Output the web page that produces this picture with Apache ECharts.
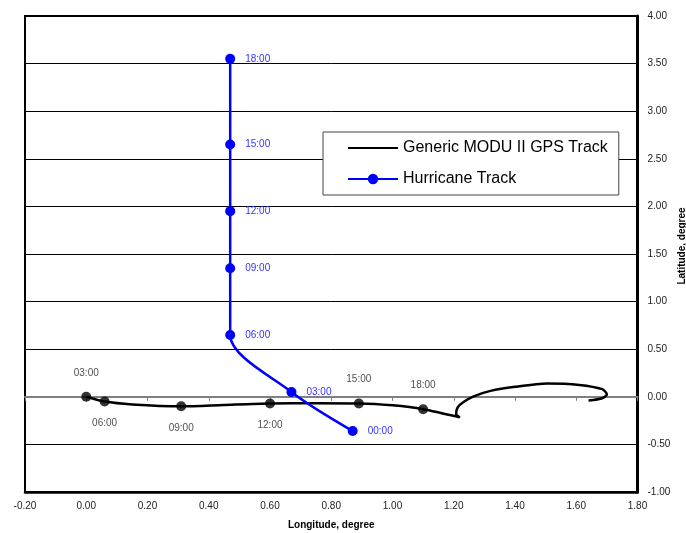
<!DOCTYPE html>
<html>
<head>
<meta charset="utf-8">
<script src="https://cdn.jsdelivr.net/npm/echarts@6/dist/echarts.min.js"></script>
<style>
  html, body { margin: 0; padding: 0; background: #fff; }
  #chart { width: 686px; height: 533px; }
</style>
</head>
<body>
<div id="chart"></div>
<script>
// Axis ranges (degrees)
const lonRange = { min: -0.2, max: 1.8, step: 0.2 };
const latRange = { min: -1.0, max: 4.0, step: 0.5 };

// Rig GPS track, [longitude, latitude]
const gpsTrack = [
  [0.00, 0.00], [0.06, -0.05], [0.15, -0.08], [0.31, -0.10], [0.45, -0.085],
  [0.60, -0.07], [0.75, -0.068], [0.89, -0.07], [1.00, -0.09], [1.10, -0.13],
  [1.22, -0.215], [1.208, -0.18], [1.213, -0.11], [1.232, -0.055],
  [1.265, 0.005], [1.32, 0.062], [1.40, 0.105], [1.505, 0.14], [1.61, 0.125],
  [1.685, 0.08], [1.70, 0.025], [1.685, -0.015], [1.64, -0.04]
];

// Rig positions at 3-hour marks
const gpsTimes = ['03:00', '06:00', '09:00', '12:00', '15:00', '18:00'];
const gpsLon   = [0.00, 0.06, 0.31, 0.60, 0.89, 1.10];
const gpsLat   = [0.00, -0.05, -0.10, -0.07, -0.07, -0.13];
const gpsLabelSide = ['top', 'bottom', 'bottom', 'bottom', 'top', 'top'];

// Hurricane eye positions
const hurTimes = ['00:00', '03:00', '06:00', '09:00', '12:00', '15:00', '18:00'];
const hurLon   = [0.87, 0.67, 0.47, 0.47, 0.47, 0.47, 0.47];
const hurLat   = [-0.36, 0.05, 0.65, 1.35, 1.95, 2.65, 3.55];

const FONT = 'Arial, "Liberation Sans", sans-serif';

const gpsDots = gpsTimes.map((t, i) => ({
  value: [gpsLon[i], gpsLat[i]],
  name: t,
  label: { position: gpsLabelSide[i], distance: gpsLabelSide[i] === 'top' ? 14 : 12 }
}));
const hurPoints = hurTimes.map((t, i) => ({ value: [hurLon[i], hurLat[i]], name: t }));

const chart = echarts.init(document.getElementById('chart'), null, { renderer: 'canvas' });
chart.setOption({
  animation: false,
  backgroundColor: '#fff',
  grid: {
    left: 25, right: 48.5, top: 16, bottom: 41,
    containLabel: false, outerBoundsMode: 'none',
    show: true, borderColor: '#000', borderWidth: 2, backgroundColor: 'transparent'
  },
  legend: {
    orient: 'vertical',
    left: 323, top: 132,
    padding: [8, 11, 8, 24],
    itemWidth: 50, itemHeight: 13, itemGap: 15,
    backgroundColor: '#fff',
    borderColor: '#444', borderWidth: 1,
    textStyle: { fontFamily: FONT, fontSize: 16, color: '#000' },
    data: [
      { name: 'Generic MODU II GPS Track', itemStyle: { opacity: 0 } },
      { name: 'Hurricane Track' }
    ]
  },
  xAxis: [
    {
      type: 'value',
      min: lonRange.min, max: lonRange.max, interval: lonRange.step,
      position: 'bottom',
      name: 'Longitude, degree', nameLocation: 'middle', nameGap: 28,
      nameMoveOverlap: false,
      nameTextStyle: { fontFamily: FONT, fontSize: 10, fontWeight: 'bold', color: '#000' },
      axisLine: { onZero: false, lineStyle: { color: '#000', width: 2.5 } },
      axisTick: { show: false },
      axisLabel: {
        margin: 9, fontFamily: FONT, fontSize: 10, color: '#222',
        formatter: v => v.toFixed(2)
      },
      splitLine: { show: false }
    },
    {
      // zero-latitude reference line with ticks
      type: 'value',
      min: lonRange.min, max: lonRange.max, interval: lonRange.step,
      position: 'bottom',
      axisLine: { onZero: true, onZeroAxisIndex: 0, lineStyle: { color: '#808080', width: 2 } },
      axisTick: { show: true, length: 4, lineStyle: { color: '#808080', width: 1 } },
      axisLabel: { show: false },
      splitLine: { show: false }
    }
  ],
  yAxis: {
    type: 'value',
    min: latRange.min, max: latRange.max, interval: latRange.step,
    position: 'right',
    name: 'Latitude, degree', nameLocation: 'middle', nameGap: 40,
    nameMoveOverlap: false,
    nameTextStyle: { fontFamily: FONT, fontSize: 10, fontWeight: 'bold', color: '#000', padding: [0, 0, 0, 16] },
    axisLine: { show: true, onZero: false, lineStyle: { color: '#000', width: 3 } },
    axisTick: { show: false },
    axisLabel: {
      margin: 10, fontFamily: FONT, fontSize: 10, color: '#222',
      formatter: v => v.toFixed(2)
    },
    splitLine: { show: true, lineStyle: { color: '#000', width: 1 } }
  },
  series: [
    {
      name: 'Generic MODU II GPS Track',
      type: 'line',
      data: gpsTrack,
      smooth: 0.25,
      symbol: 'none',
      lineStyle: { color: '#000', width: 2.5 },
      itemStyle: { color: '#000' },
      z: 3
    },
    {
      name: 'GPS marks',
      type: 'scatter',
      data: gpsDots,
      symbol: 'circle',
      symbolSize: 10,
      itemStyle: { color: '#000' },
      label: {
        show: true, formatter: p => p.name,
        fontFamily: FONT, fontSize: 10, color: '#222'
      },
      z: 4
    },
    {
      name: 'Hurricane Track',
      type: 'line',
      data: hurPoints,
      smooth: 0.3,
      symbol: 'circle',
      symbolSize: 10,
      showAllSymbol: true,
      lineStyle: { color: '#0000ff', width: 2.5 },
      itemStyle: { color: '#0000ff' },
      label: {
        show: true, position: 'right', distance: 10,
        formatter: p => p.name,
        fontFamily: FONT, fontSize: 10, color: '#3333ff'
      },
      z: 5
    }
  ]
});
</script>
</body>
</html>
